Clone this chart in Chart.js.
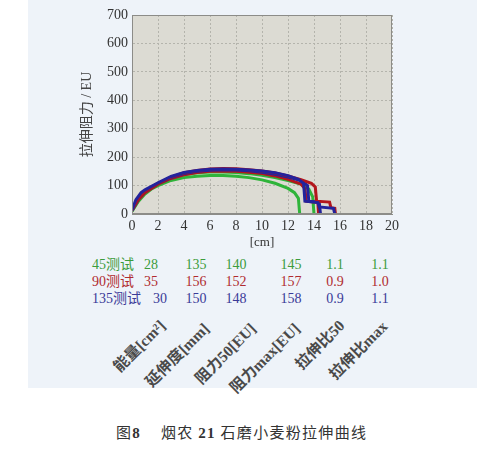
<!DOCTYPE html>
<html>
<head>
<meta charset="utf-8">
<script src="https://cdn.jsdelivr.net/npm/chart.js@4.4.0/dist/chart.umd.min.js"></script>
<style>
  body { margin: 0; background: #fff; }
  #wrap { position: relative; width: 477px; height: 451px; overflow: hidden; }
  #panel { position: absolute; left: 28px; top: 0; width: 449px; height: 388px; background: #eef3f9; }
  #box { position: absolute; left: 0; top: 0; width: 477px; height: 255px; }
  .cell { position: absolute; font: 14px "Liberation Serif", "Noto Sans CJK SC", serif; white-space: nowrap; line-height: 16px; }
  .rot { position: absolute; font: bold 15.5px "Liberation Serif", "Noto Sans CJK SC", serif; color: #4a4a4a;
         white-space: nowrap; line-height: 16px; transform-origin: 100% 50%; transform: rotate(-45deg); }
  .cap { position: absolute; top: 421px; font: 15px "Noto Sans CJK SC", serif; color: #333; white-space: nowrap; letter-spacing: 1.3px; }
</style>
</head>
<body>
<div id="wrap">
  <div id="panel"></div>
  <div id="box"><canvas id="chart"></canvas></div>
  <div id="table"></div>
  <span class="cap" style="left:116px">图<b style="font-family:'Liberation Serif'">8</b></span>
  <span class="cap" style="left:161px">烟农 <b style="font-family:'Liberation Serif'">21</b> 石磨小麦粉拉伸曲线</span>
</div>
<script>
// extensograph curves, x in cm, y in EU (two runs per test time)
const green1X = [0, 0.5, 1, 1.5, 2, 3, 4, 5, 6, 7, 8, 9, 10, 11, 12, 12.5, 12.8, 12.9];
const green1Y = [10, 45, 70, 88, 100, 118, 128, 133, 135, 135, 133, 128, 120, 108, 90, 75, 55, 0];
const green2X = [0, 0.5, 1, 2, 3, 4, 5, 6, 7, 8, 9, 10, 11, 12, 13, 13.6, 13.9, 14.0];
const green2Y = [10, 50, 78, 105, 125, 138, 145, 148, 148, 146, 142, 136, 128, 118, 105, 88, 60, 0];
const red1X = [0, 0.5, 1, 2, 3, 4, 5, 6, 7, 8, 9, 10, 11, 12, 13, 13.8, 14.1, 14.2, 15.2, 15.3, 15.6, 15.65];
const red1Y = [15, 55, 80, 108, 130, 145, 153, 158, 160, 159, 156, 151, 144, 134, 121, 108, 95, 45, 42, 22, 20, 0];
const red2X = [0, 0.5, 1, 2, 3, 4, 5, 6, 7, 8, 9, 10, 11, 12, 13, 13.3, 13.4, 14.3, 14.35];
const red2Y = [12, 50, 75, 105, 125, 138, 146, 150, 151, 150, 147, 142, 134, 122, 105, 90, 45, 40, 0];
const blue1X = [0, 0.3, 0.7, 1, 2, 3, 4, 5, 6, 7, 8, 9, 10, 11, 12, 12.8, 13.2, 13.3, 14.3, 14.4, 15.5, 15.6];
const blue1Y = [15, 50, 75, 85, 110, 132, 146, 153, 157, 158, 157, 155, 151, 145, 135, 122, 108, 45, 40, 25, 20, 0];
const blue2X = [0, 0.5, 1, 2, 3, 4, 5, 6, 7, 8, 9, 10, 11, 12, 13, 13.5, 13.6, 14.4, 14.5];
const blue2Y = [12, 55, 80, 108, 128, 142, 150, 154, 156, 155, 152, 147, 140, 130, 118, 100, 45, 42, 0];

// summary table under the chart
const rowLabels = ['45测试', '90测试', '135测试'];
const colLabels = ['能量[cm²]', '延伸度[mm]', '阻力50[EU]', '阻力max[EU]', '拉伸比50', '拉伸比max'];
const row45 = ['28', '135', '140', '145', '1.1', '1.1'];
const row90 = ['35', '156', '152', '157', '0.9', '1.0'];
const row135 = ['30', '150', '148', '158', '0.9', '1.1'];

const xTicks = [0, 2, 4, 6, 8, 10, 12, 14, 16, 18, 20];

const GREEN = '#2fb43a', RED = '#b3161c', BLUE = '#23239c';

function pts(xs, ys) {
  return xs.map((x, i) => ({ x: x, y: ys[i] }));
}

function curve(xs, ys, color) {
  return {
    data: pts(xs, ys),
    borderColor: color,
    borderWidth: 3,
    pointRadius: 0,
    tension: 0,
    fill: false
  };
}

// grey plot background below, solid frame on top
const plotBg = {
  id: 'plotBg',
  beforeDraw(chart) {
    const a = chart.chartArea;
    const ctx = chart.ctx;
    ctx.save();
    ctx.fillStyle = '#dcdbd3';
    ctx.fillRect(a.left, a.top, a.right - a.left, a.bottom - a.top);
    ctx.restore();
  },
  afterDraw(chart) {
    const a = chart.chartArea;
    const ctx = chart.ctx;
    ctx.save();
    ctx.strokeStyle = '#8c8c88';
    ctx.lineWidth = 1;
    ctx.strokeRect(a.left + 0.5, a.top + 0.5, a.right - a.left - 1, a.bottom - a.top - 1);
    ctx.restore();
  }
};

const tickFont = { family: '"Liberation Serif", serif', size: 14 };

new Chart(document.getElementById('chart'), {
  type: 'line',
  data: {
    datasets: [
      curve(blue1X, blue1Y, BLUE),
      curve(red1X, red1Y, RED),
      curve(blue2X, blue2Y, BLUE),
      curve(red2X, red2Y, RED),
      curve(green2X, green2Y, GREEN),
      curve(green1X, green1Y, GREEN)
    ]
  },
  options: {
    responsive: true,
    maintainAspectRatio: false,
    animation: false,
    layout: { padding: { left: 78, right: 85, top: 15, bottom: 5 } },
    plugins: { legend: { display: false }, tooltip: { enabled: false } },
    scales: {
      x: {
        type: 'linear',
        min: 0,
        max: 20,
        afterBuildTicks: s => { s.ticks = xTicks.map(v => ({ value: v })); },
        afterFit: s => { s.height = 36; },
        ticks: { color: '#333', font: tickFont, padding: 4, maxRotation: 0 },
        grid: { color: '#b4b4ac', drawTicks: false },
        border: { color: '#8c8c88', dash: [2, 2] },
        title: { display: true, text: '[cm]', color: '#333', font: { family: '"Liberation Serif", serif', size: 13 }, padding: 0 }
      },
      y: {
        min: 0,
        max: 700,
        afterFit: s => { s.width = 54; },
        ticks: { stepSize: 100, color: '#333', font: tickFont, padding: 4 },
        grid: { color: '#b4b4ac', drawTicks: false },
        border: { color: '#8c8c88', dash: [2, 2] },
        title: { display: true, text: '拉伸阻力 / EU', color: '#444', font: { family: '"Liberation Serif", "Noto Sans CJK SC", serif', size: 14 }, padding: 1 }
      }
    }
  },
  plugins: [plotBg]
});

// table as positioned text
const table = document.getElementById('table');
const rowTop = [257, 274, 291];
const rowColor = ['#3c9c3c', '#b02c30', '#3a3a98'];
const colCenter = [151, 196, 236, 291, 335, 380];
[row45, row90, row135].forEach((row, r) => {
  const lab = document.createElement('div');
  lab.className = 'cell';
  lab.style.left = '92px';
  lab.style.top = rowTop[r] + 'px';
  lab.style.color = rowColor[r];
  lab.textContent = rowLabels[r];
  table.appendChild(lab);
  row.forEach((v, c) => {
    const d = document.createElement('div');
    d.className = 'cell';
    let cx = colCenter[c];
    if (r === 2 && c === 0) cx = 160;
    d.style.left = (cx - 20) + 'px';
    d.style.width = '40px';
    d.style.textAlign = 'center';
    d.style.top = rowTop[r] + 'px';
    d.style.color = rowColor[r];
    d.textContent = v;
    table.appendChild(d);
  });
});
const labEnd = [[163, 323], [207, 326], [253, 326], [297, 326], [342, 323], [385, 324]];
colLabels.forEach((t, i) => {
  const d = document.createElement('div');
  d.className = 'rot';
  d.style.right = (477 - labEnd[i][0]) + 'px';
  d.style.top = (labEnd[i][1] - 8) + 'px';
  d.textContent = t;
  table.appendChild(d);
});
</script>
</body>
</html>
